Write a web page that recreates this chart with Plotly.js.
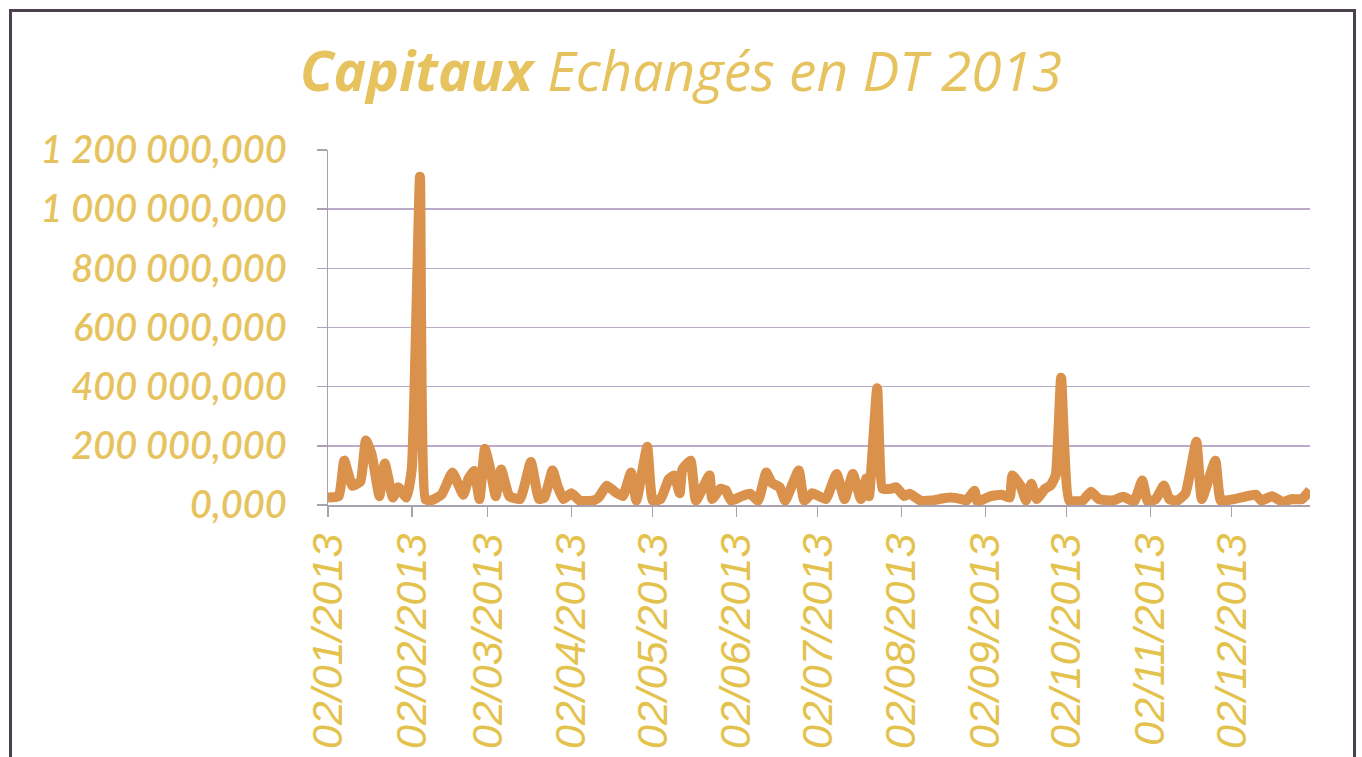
<!DOCTYPE html>
<html>
<head>
<meta charset="utf-8">
<script src="https://cdn.plot.ly/plotly-3.0.1.min.js"></script>
<style>
  html, body { margin: 0; padding: 0; background: #ffffff; }
  #chart { width: 1362px; height: 757px; }
  #frame { position: absolute; left: 9px; top: 9px; width: 1341px; height: 770px;
           border: 3px solid #4a4050; pointer-events: none; }
</style>
</head>
<body>
<div id="chart"></div>
<div id="frame"></div>
<script>
const dates = [
  "2013-01-02","2013-01-06","2013-01-08","2013-01-11","2013-01-14","2013-01-16","2013-01-18","2013-01-19",
  "2013-01-21","2013-01-23","2013-01-26","2013-01-28","2013-01-31","2013-02-02","2013-02-05","2013-02-07",
  "2013-02-09","2013-02-13","2013-02-17","2013-02-21","2013-02-23","2013-02-25","2013-02-27","2013-03-01",
  "2013-03-03","2013-03-05","2013-03-07","2013-03-10","2013-03-14","2013-03-18","2013-03-21","2013-03-23",
  "2013-03-26","2013-03-28","2013-03-30",
  "2013-04-02","2013-04-05","2013-04-10","2013-04-12","2013-04-15","2013-04-18","2013-04-21","2013-04-24",
  "2013-04-26","2013-04-30","2013-05-02","2013-05-05","2013-05-08","2013-05-10","2013-05-12","2013-05-13",
  "2013-05-16","2013-05-18","2013-05-23","2013-05-24","2013-05-27","2013-05-29","2013-05-31","2013-06-04",
  "2013-06-07","2013-06-10","2013-06-13","2013-06-15","2013-06-18","2013-06-20","2013-06-25","2013-06-27",
  "2013-06-30",
  "2013-07-05","2013-07-09","2013-07-12","2013-07-15","2013-07-18","2013-07-20","2013-07-21","2013-07-24",
  "2013-07-26","2013-07-29","2013-07-31","2013-08-03","2013-08-05","2013-08-09","2013-08-13","2013-08-16",
  "2013-08-20","2013-08-24","2013-08-26","2013-08-29","2013-08-30","2013-09-04","2013-09-08","2013-09-11",
  "2013-09-12","2013-09-15","2013-09-17","2013-09-19","2013-09-21","2013-09-24","2013-09-26","2013-09-28",
  "2013-09-30",
  "2013-10-03","2013-10-08","2013-10-11","2013-10-14","2013-10-19","2013-10-23","2013-10-27","2013-10-30",
  "2013-11-01","2013-11-04","2013-11-07","2013-11-09","2013-11-12","2013-11-15","2013-11-19","2013-11-21",
  "2013-11-26","2013-11-28","2013-12-03","2013-12-11","2013-12-13","2013-12-17","2013-12-21","2013-12-24",
  "2013-12-28","2013-12-31"
];
const capitaux = [
  25e3, 30e3, 150e3, 65e3, 80e3, 218e3, 175e3, 130e3,
  30e3, 140e3, 25e3, 60e3, 25e3, 125e3, 1110e3, 20e3,
  15e3, 35e3, 110e3, 35e3, 90e3, 115e3, 20e3, 190e3,
  120e3, 30e3, 120e3, 30e3, 20e3, 145e3, 20e3, 25e3,
  117e3, 60e3, 20e3,
  40e3, 15e3, 15e3, 25e3, 65e3, 45e3, 30e3, 110e3,
  15e3, 197e3, 15e3, 20e3, 88e3, 100e3, 40e3, 120e3,
  150e3, 15e3, 100e3, 20e3, 55e3, 50e3, 15e3, 30e3,
  38e3, 15e3, 110e3, 75e3, 60e3, 15e3, 117e3, 15e3,
  40e3,
  20e3, 105e3, 20e3, 105e3, 20e3, 90e3, 30e3, 395e3,
  55e3, 55e3, 60e3, 30e3, 38e3, 15e3, 15e3, 20e3,
  25e3, 20e3, 15e3, 48e3, 12e3, 30e3, 35e3, 25e3,
  100e3, 65e3, 15e3, 72e3, 20e3, 55e3, 65e3, 100e3,
  430e3,
  15e3, 15e3, 45e3, 20e3, 15e3, 28e3, 12e3, 83e3,
  12e3, 20e3, 66e3, 20e3, 15e3, 40e3, 214e3, 20e3,
  150e3, 15e3, 20e3, 35e3, 15e3, 30e3, 10e3, 20e3,
  20e3, 50e3
];
const tickDates = ["2013-01-02","2013-02-02","2013-03-02","2013-04-02","2013-05-02","2013-06-02",
                   "2013-07-02","2013-08-02","2013-09-02","2013-10-02","2013-11-02","2013-12-02"];
const tickLabels = ["02/01/2013","02/02/2013","02/03/2013","02/04/2013","02/05/2013","02/06/2013",
                    "02/07/2013","02/08/2013","02/09/2013","02/10/2013","02/11/2013","02/12/2013"];
const yTicks = [0, 200e3, 400e3, 600e3, 800e3, 1000e3, 1200e3];

const trace = {
  x: dates, y: capitaux, type: "scatter", mode: "lines",
  line: { color: "#D9914C", width: 10, shape: "spline", smoothing: 0.4 },
  hoverinfo: "skip"
};

const layout = {
  width: 1362, height: 757,
  margin: { l: 328, r: 52, t: 150, b: 252 },
  paper_bgcolor: "#ffffff", plot_bgcolor: "#ffffff",
  separators: ", ",
  showlegend: false,
  title: {
    text: "<b>Capitaux</b> Echangés en DT 2013",
    font: { family: "Open Sans, sans-serif", size: 55, color: "#E6C35E", style: "italic" },
    x: 0.5, xanchor: "center", xref: "container",
    y: 1 - 72/757, yanchor: "middle", yref: "container"
  },
  xaxis: {
    type: "date",
    range: ["2013-01-02", "2013-12-31"],
    tickvals: tickDates, ticktext: tickLabels,
    tickangle: -90,
    tickfont: { family: "Liberation Sans, Arial, sans-serif", size: 43, color: "#E4C24E", style: "italic" },
    ticks: "outside", ticklen: 10, tickwidth: 1.5, tickcolor: "#A8A2B0",
    showline: true, linecolor: "#A8A2B0", linewidth: 1.5,
    showgrid: false, zeroline: false, fixedrange: true
  },
  yaxis: {
    range: [0, 1200e3],
    tickvals: yTicks,
    tickformat: ",.3f",
    tickfont: { family: "Lato, sans-serif", size: 38, color: "#E6C35E", style: "italic", weight: 600 },
    ticks: "outside", ticklen: 10, tickwidth: 1.5, tickcolor: "#A8A2B0",
    showline: true, linecolor: "#A8A2B0", linewidth: 1.5,
    showgrid: true, gridcolor: "#BCAACB", gridwidth: 1.5,
    zeroline: false, fixedrange: true, ticklabelstandoff: 22
  }
};

Plotly.newPlot("chart", [trace], layout, { displayModeBar: false, staticPlot: true });
</script>
</body>
</html>
